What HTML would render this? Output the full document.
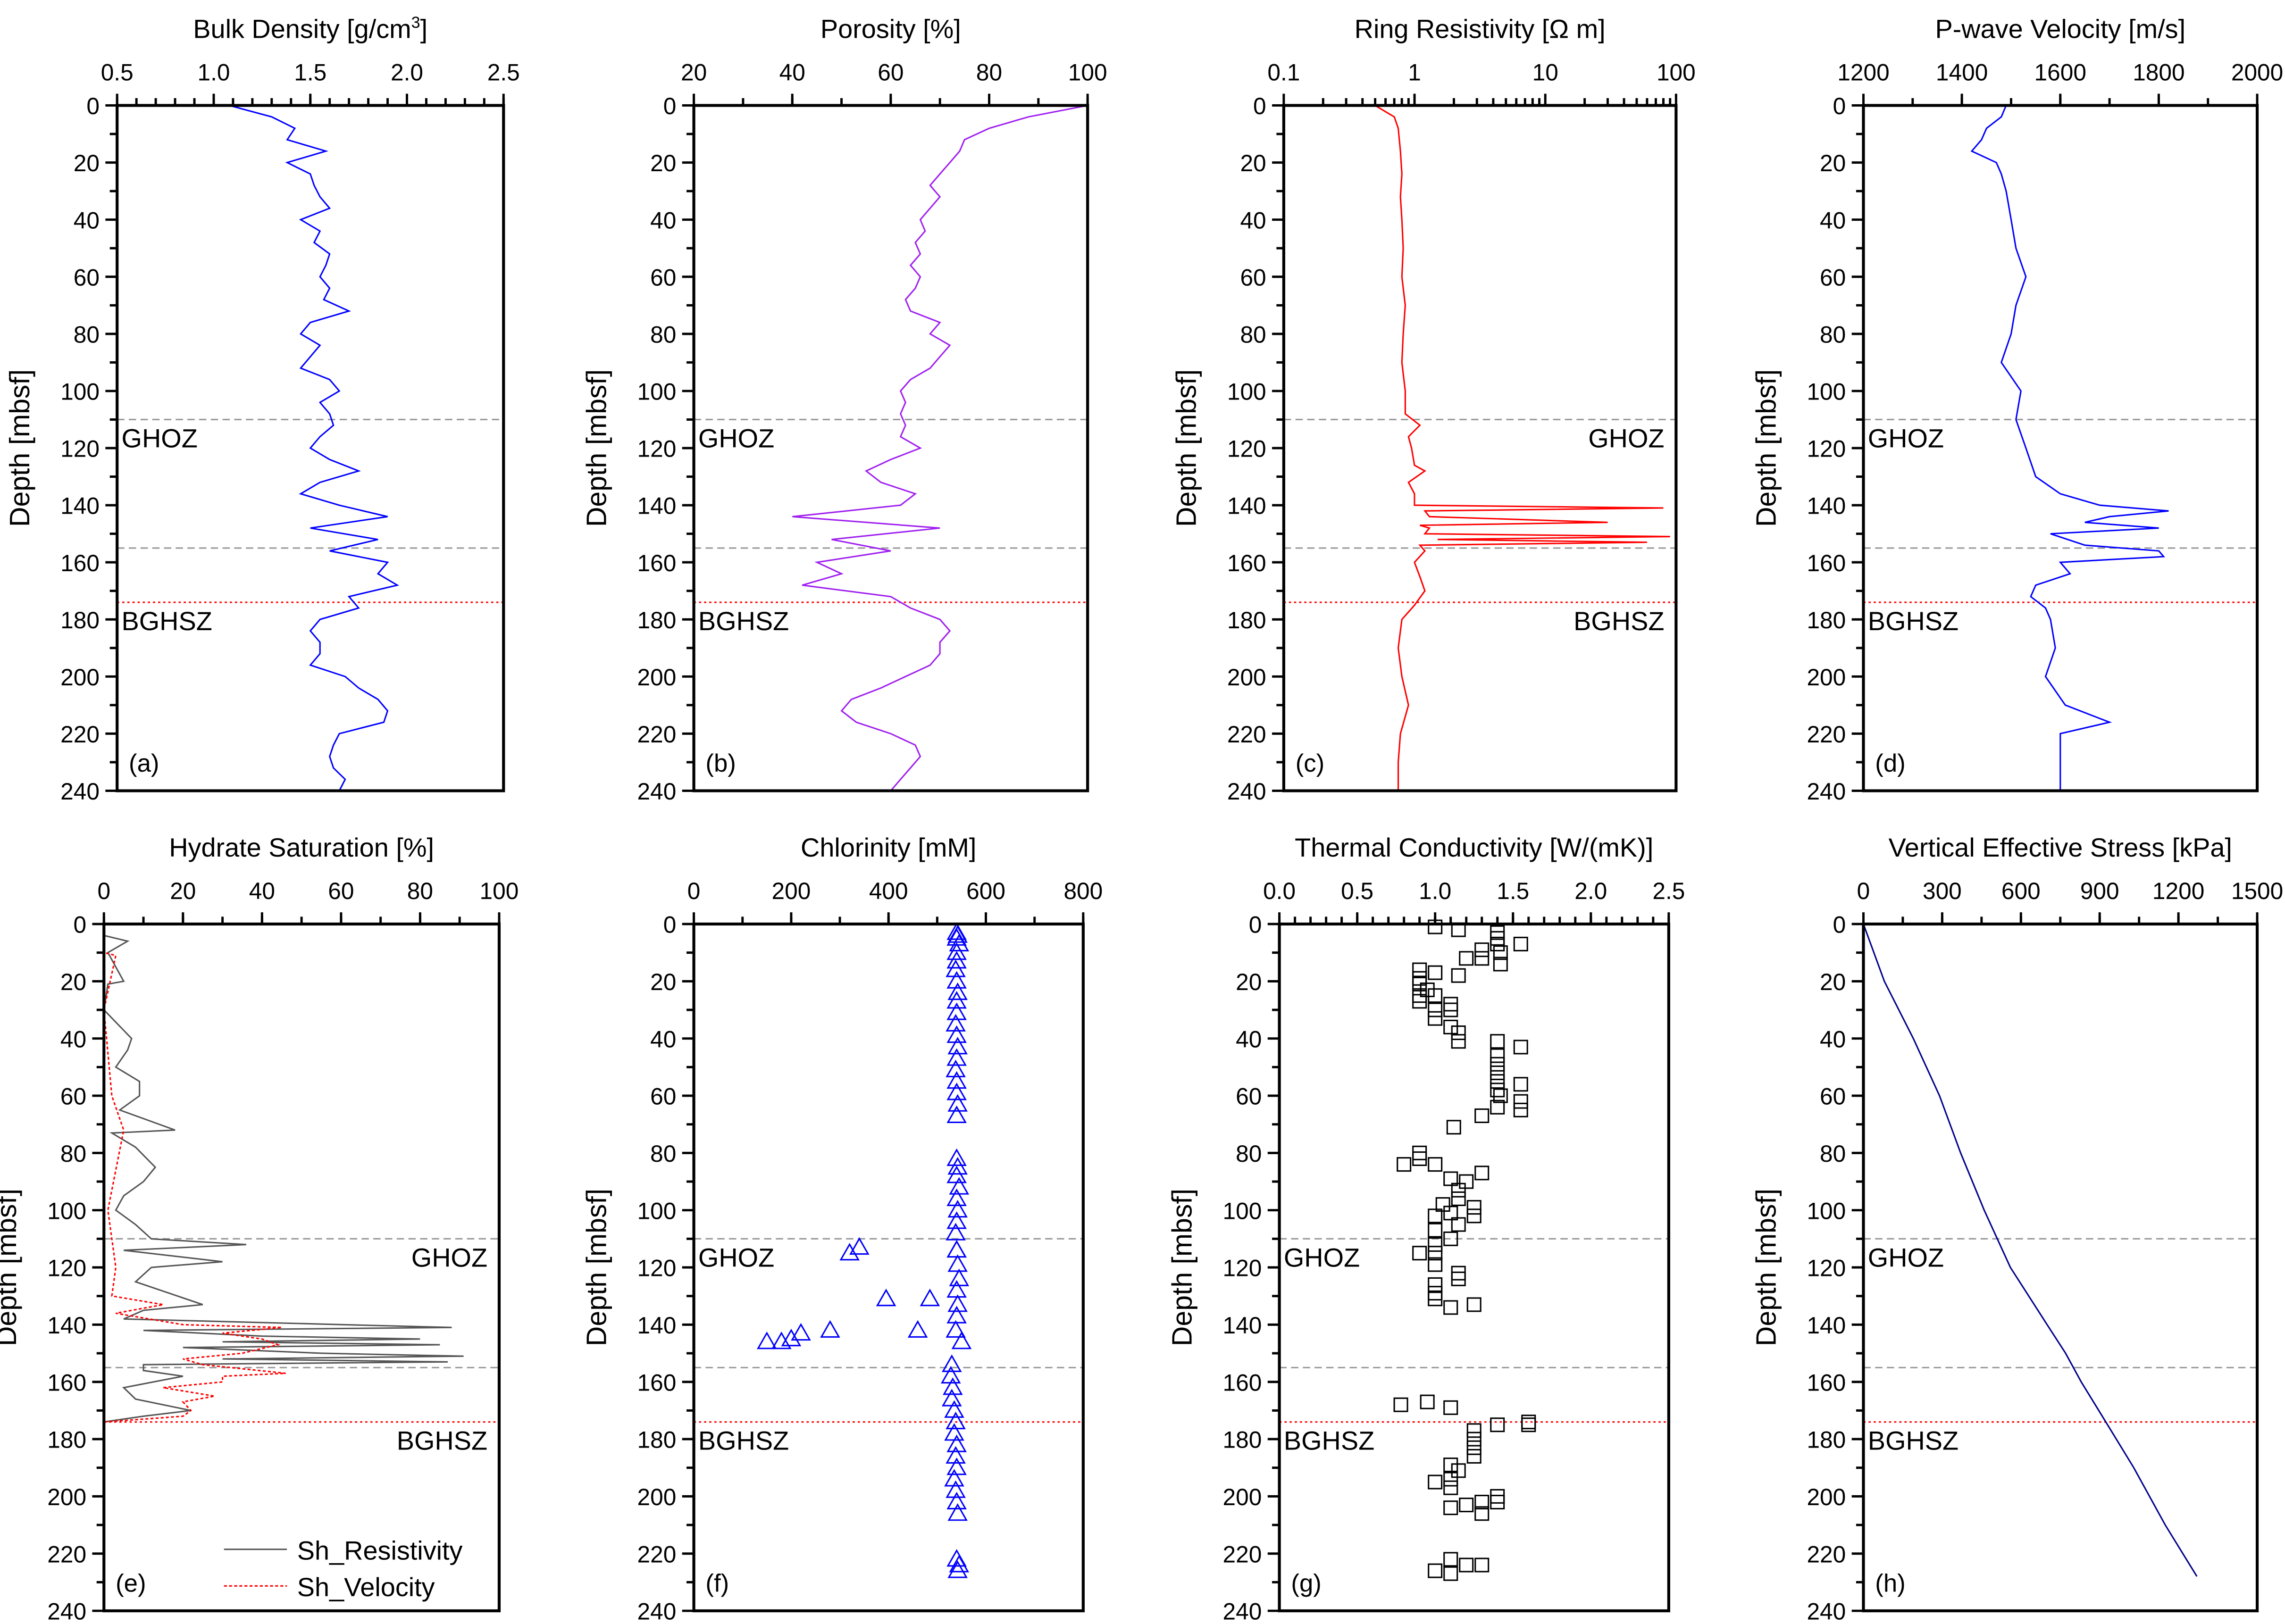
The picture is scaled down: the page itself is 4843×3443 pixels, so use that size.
<!DOCTYPE html>
<html><head><meta charset="utf-8"><style>
html,body{margin:0;padding:0;background:#fff;}
svg{display:block;}
text{font-family:"Liberation Sans",sans-serif;fill:#000;}
</style></head><body>
<svg id="fig" xmlns="http://www.w3.org/2000/svg" width="4843" height="3443" viewBox="0 0 1561 1109" preserveAspectRatio="none"></svg>
<script>
// ---- data ----
const gridDepth = [0,4,8,12,16,20,24,28,32,36,40,44,48,52,56,60,64,68,72,76,80,84,88,92,96,100,104,108,112,116,120,124,128,132,136,140,144,148,152,156,160,164,168,172,176,180,184,188,192,196,200,204,208,212,216,220,224,228,232,236,240];
const densityVals = [1.08,1.3,1.42,1.38,1.58,1.38,1.5,1.52,1.55,1.6,1.45,1.55,1.52,1.6,1.58,1.55,1.6,1.57,1.7,1.5,1.45,1.55,1.5,1.45,1.6,1.65,1.55,1.6,1.62,1.55,1.5,1.6,1.75,1.55,1.45,1.65,1.9,1.5,1.85,1.6,1.9,1.85,1.95,1.7,1.75,1.55,1.5,1.55,1.55,1.5,1.68,1.75,1.85,1.9,1.88,1.65,1.62,1.6,1.62,1.68,1.65];
const porosityVals = [100,88,80,75,74,72,70,68,70,68,66,67,65,66,64,66,65,63,64,70,68,72,70,68,64,62,63,62,63,62,66,60,55,58,65,62,40,70,48,60,45,50,42,60,64,70,72,70,70,68,63,58,52,50,53,60,65,66,64,62,60];
const resDepth = [0,4,8,16,24,32,40,50,60,70,80,90,100,108,112,116,120,126,128,132,136,140,141,142,144,146,147,148,150,151,152,153,154,156,160,165,170,175,180,190,200,210,220,230,240];
const resVals = [0.5,0.7,0.75,0.78,0.8,0.78,0.8,0.82,0.8,0.85,0.82,0.8,0.85,0.85,1.1,0.9,0.95,1.0,1.2,0.9,1.0,1.0,80,1.2,1.3,30,1.1,1.3,1.2,90,1.5,60,1.1,1.2,1.0,1.1,1.2,1.0,0.8,0.75,0.8,0.9,0.78,0.75,0.75];
const velDepth = [0,4,8,12,16,20,24,30,40,50,60,70,80,90,100,110,120,130,136,140,142,144,146,148,150,154,156,158,160,164,168,172,176,180,190,200,210,216,220,230,240];
const velVals = [1490,1480,1450,1440,1420,1470,1480,1490,1500,1510,1530,1510,1500,1480,1520,1510,1530,1550,1600,1680,1820,1700,1650,1800,1580,1650,1800,1810,1600,1620,1550,1540,1570,1580,1590,1570,1610,1700,1600,1600,1600];
const shResDepth = [0,4,6,10,20,21,30,40,44,50,55,60,65,72,73,78,85,90,95,100,105,110,112,114,118,120,125,133,135,138,141,142,144,145,146,147,148,150,151,152,153,154,156,158,162,166,170,172,174];
const shResVals = [0,0,6,1,5,1,0,7,6,3,9,9,4,18,2,8,13,10,5,3,8,12,36,5,30,12,8,25,10,5,88,10,40,80,30,85,20,55,91,30,87,10,10,20,5,8,22,10,0];
const shVelDepth = [0,10,11,30,60,72,100,120,130,133,136,140,141,143,145,147,150,152,154,157,158,160,162,165,167,170,172,173,174];
const shVelVals = [0,0,3,0,2,5,1,3,2,15,3,20,45,30,40,44,35,20,25,46,30,30,15,28,20,22,20,10,0];
const chlX = [540,542,540,545,540,540,538,540,542,540,540,538,540,542,540,538,540,540,542,540,540,542,540,545,540,542,540,538,540,542,545,540,542,540,538,550,530,528,532,530,535,538,535,540,538,540,535,538,540,542,540,545,542,540,320,340,395,485,280,460,220,200,180,150,130];
const chlD = [3,4,5,7,10,13,16,20,24,27,31,35,39,43,47,51,55,59,63,67,82,85,88,92,96,100,104,108,114,119,124,128,133,137,142,146,154,158,162,166,170,174,178,182,186,190,194,198,202,206,222,224,226,114,115,113,131,131,142,142,143,145,146,146];
const tcX = [1.0,1.15,1.4,1.4,1.4,1.55,1.3,1.42,1.2,1.3,1.42,0.9,1.0,1.15,0.9,0.9,0.95,0.9,1.0,0.9,1.1,1.0,1.1,1.0,1.1,1.15,1.15,1.4,1.55,1.4,1.4,1.4,1.4,1.55,1.4,1.42,1.55,1.4,1.55,1.3,1.12,0.9,0.9,0.8,1.0,1.3,1.1,1.2,1.15,1.15,1.05,1.25,1.1,1.0,1.25,1.15,1.0,1.1,1.0,0.9,1.0,1.0,1.15,1.15,1.0,1.0,1.0,1.25,1.1,0.78,0.95,1.1,1.4,1.6,1.6,1.25,1.25,1.25,1.25,1.1,1.15,1.1,1.0,1.1,1.4,1.4,1.3,1.2,1.1,1.3,1.1,1.2,1.3,1.0,1.1];
const tcD = [1,2,3,5,7,7,9,10,12,12,14,16,17,18,19,21,23,25,25,27,28,30,30,33,36,38,41,41,43,46,49,52,55,56,58,60,62,64,65,67,71,80,82,84,84,87,89,90,93,96,98,99,101,102,102,105,107,110,112,115,115,119,122,124,126,129,131,133,134,168,167,169,175,174,175,177,180,183,186,189,191,194,195,197,200,202,202,203,204,206,222,224,224,226,227];
const stressDepth = [0,20,40,60,80,100,120,140,150,160,175,190,210,228];
const stressVals = [0,80,190,290,370,460,560,700,770,830,930,1030,1150,1270];
const depthTicks = [0,20,40,60,80,100,120,140,160,180,200,220,240];

// ---- drawing ----
const NS = "http://www.w3.org/2000/svg";
const svg = document.getElementById('fig');
function el(tag, attrs, parent){
  const e = document.createElementNS(NS, tag);
  for (const k in attrs) e.setAttribute(k, attrs[k]);
  (parent||svg).appendChild(e);
  return e;
}
function txt(s, x, y, size, anchor, parent, rot){
  const t = el('text', {x:x, y:y, 'font-size':size, 'text-anchor':anchor||'middle'}, parent);
  if (rot) t.setAttribute('transform', 'rotate(-90 '+x+' '+y+')');
  t.textContent = s;
  return t;
}
function panel(cfg){
  const g = el('g', {});
  
  
  const L=cfg.x0, R=cfg.x1, T=cfg.y0, B=cfg.y1;
  const xs = cfg.log ? (v => L + (Math.log10(v)-Math.log10(cfg.xmin))/(Math.log10(cfg.xmax)-Math.log10(cfg.xmin))*(R-L))
                     : (v => L + (v-cfg.xmin)/(cfg.xmax-cfg.xmin)*(R-L));
  const ys = d => T + d/240*(B-T);
  // title
  const tt = txt(cfg.title, (L+R)/2, T-46, 18, 'middle', g);
  
  
  if (cfg.sup){ const s = el('tspan', {'font-size':11, dy:-7}, tt); s.textContent = cfg.sup; const s2 = el('tspan', {dy:7}, tt); s2.textContent = ']'; }
  // y title
  const yt = txt('Depth [mbsf]', L-60, (T+B)/2, 19, 'middle', g, true);
  
  
  // y ticks
  for (let d=0; d<=240; d+=10){
    const maj = d%20===0;
    el('line', {x1:L, x2:L-(maj?8:5), y1:ys(d), y2:ys(d), stroke:'#000','stroke-width':1.6}, g);
  }
  depthTicks.forEach(d => {
    const t = txt(String(d), L-12, ys(d)+6, 16, 'end', g);
    
    
  });
  // x ticks
  cfg.minor.forEach(v => el('line', {x1:xs(v), x2:xs(v), y1:T, y2:T-5, stroke:'#000','stroke-width':1.6}, g));
  cfg.major.forEach((v,i) => {
    el('line', {x1:xs(v), x2:xs(v), y1:T, y2:T-8, stroke:'#000','stroke-width':1.6}, g);
    const t = txt(cfg.labels[i], xs(v), T-17, 16, 'middle', g);
    
    
  });
  // reference lines
  el('line', {x1:L, x2:R, y1:ys(110), y2:ys(110), stroke:'#999','stroke-width':1,'stroke-dasharray':'5,3'}, g);
  el('line', {x1:L, x2:R, y1:ys(155), y2:ys(155), stroke:'#999','stroke-width':1,'stroke-dasharray':'5,3'}, g);
  el('line', {x1:L, x2:R, y1:ys(174), y2:ys(174), stroke:'#f00','stroke-width':1,'stroke-dasharray':'1.5,2'}, g);
  const gx = cfg.zoneRight ? R-8 : L+3;
  const an = cfg.zoneRight ? 'end' : 'start';
  const g1 = txt('GHOZ', gx, ys(110)+19, 18, an, g);  
  const g2 = txt('BGHSZ', gx, ys(174)+19, 18, an, g);  
  const pl = txt(cfg.letter, L+8, B-13, 17, 'start', g);  
  // series
  cfg.draw(g, xs, ys);
  // frame
  el('rect', {x:L, y:T, width:R-L, height:B-T, fill:'none', stroke:'#000','stroke-width':2}, g);
}
function line(g, xs, ys, xv, dv, color, w, dash, name){
  let p = '';
  for (let i=0;i<dv.length;i++) p += (i?'L':'M') + xs(xv[i]).toFixed(1) + ',' + ys(dv[i]).toFixed(1);
  const a = {d:p, fill:'none', stroke:color, 'stroke-width':w};
  if (dash) a['stroke-dasharray'] = dash;
  const e = el('path', a, g);
  
  
}
function rng(a,b,s){const r=[];for(let v=a;v<=b+1e-9;v+=s)r.push(+v.toFixed(4));return r;}

panel({name:'panel-bulk-density', title:'Bulk Density [g/cm', sup:'3', x0:80,x1:344,y0:72,y1:540, xmin:0.5,xmax:2.5,
  major:[0.5,1,1.5,2,2.5], labels:['0.5','1.0','1.5','2.0','2.5'], minor:rng(0.5,2.5,0.1), letter:'(a)',
  draw:(g,xs,ys)=>line(g,xs,ys,densityVals,gridDepth,'#0000ff',1,null,'density-line')});
panel({name:'panel-porosity', title:'Porosity [%]', x0:474,x1:743,y0:72,y1:540, xmin:20,xmax:100,
  major:[20,40,60,80,100], labels:['20','40','60','80','100'], minor:rng(20,100,10), letter:'(b)',
  draw:(g,xs,ys)=>line(g,xs,ys,porosityVals,gridDepth,'#a020f0',1,null,'porosity-line')});
const logMinor=[]; [0.1,1,10].forEach(b=>{for(let k=2;k<=9;k++)logMinor.push(b*k);});
panel({name:'panel-resistivity', title:'Ring Resistivity [Ω m]', x0:877,x1:1145,y0:72,y1:540, xmin:0.1,xmax:100, log:true,
  major:[0.1,1,10,100], labels:['0.1','1','10','100'], minor:logMinor, letter:'(c)', zoneRight:true,
  draw:(g,xs,ys)=>line(g,xs,ys,resVals,resDepth,'#ff0000',1,null,'resistivity-line')});
panel({name:'panel-p-wave-velocity', title:'P-wave Velocity [m/s]', x0:1273,x1:1542,y0:72,y1:540, xmin:1200,xmax:2000,
  major:[1200,1400,1600,1800,2000], labels:['1200','1400','1600','1800','2000'], minor:rng(1200,2000,100), letter:'(d)',
  draw:(g,xs,ys)=>line(g,xs,ys,velVals,velDepth,'#0000ff',1,null,'velocity-line')});
panel({name:'panel-hydrate-saturation', title:'Hydrate Saturation [%]', x0:71,x1:341,y0:631,y1:1100, xmin:0,xmax:100,
  major:[0,20,40,60,80,100], labels:['0','20','40','60','80','100'], minor:rng(0,100,10), letter:'(e)', zoneRight:true,
  draw:(g,xs,ys)=>{
    line(g,xs,ys,shResVals,shResDepth,'#555',1,null,'sh-resistivity-line');
    line(g,xs,ys,shVelVals,shVelDepth,'#ff0000',1,'2,1.5','sh-velocity-line');
    const lg = el('g',{},g);
    
    
    el('line',{x1:153,x2:196,y1:1058,y2:1058,stroke:'#555','stroke-width':1},lg);
    txt('Sh_Resistivity',203,1065,18,'start',lg);
    el('line',{x1:153,x2:196,y1:1083,y2:1083,stroke:'#f00','stroke-width':1,'stroke-dasharray':'2,1.5'},lg);
    txt('Sh_Velocity',203,1090,18,'start',lg);
  }});
panel({name:'panel-chlorinity', title:'Chlorinity [mM]', x0:474,x1:740,y0:631,y1:1100, xmin:0,xmax:800,
  major:[0,200,400,600,800], labels:['0','200','400','600','800'], minor:rng(0,800,100), letter:'(f)',
  draw:(g,xs,ys)=>{
    for(let i=0;i<chlX.length;i++){
      const x=xs(chlX[i]), y=ys(chlD[i]);
      const p=el('path',{d:`M${x},${y-6}L${x+6},${y+4.5}L${x-6},${y+4.5}Z`,fill:'none',stroke:'#0000ff','stroke-width':1},g);
      
      
    }
  }});
panel({name:'panel-thermal-conductivity', title:'Thermal Conductivity [W/(mK)]', x0:874,x1:1140,y0:631,y1:1100, xmin:0,xmax:2.5,
  major:[0,0.5,1,1.5,2,2.5], labels:['0.0','0.5','1.0','1.5','2.0','2.5'], minor:rng(0,2.5,0.1), letter:'(g)',
  draw:(g,xs,ys)=>{
    for(let i=0;i<tcX.length;i++){
      const r=el('rect',{x:xs(tcX[i])-4.5,y:ys(tcD[i])-4.5,width:9,height:9,fill:'none',stroke:'#000','stroke-width':1},g);
      
      
    }
  }});
panel({name:'panel-effective-stress', title:'Vertical Effective Stress [kPa]', x0:1273,x1:1542,y0:631,y1:1100, xmin:0,xmax:1500,
  major:[0,300,600,900,1200,1500], labels:['0','300','600','900','1200','1500'], minor:rng(0,1500,150), letter:'(h)',
  draw:(g,xs,ys)=>line(g,xs,ys,stressVals,stressDepth,'#00008b',1,null,'stress-line')});
</script>
</body></html>
